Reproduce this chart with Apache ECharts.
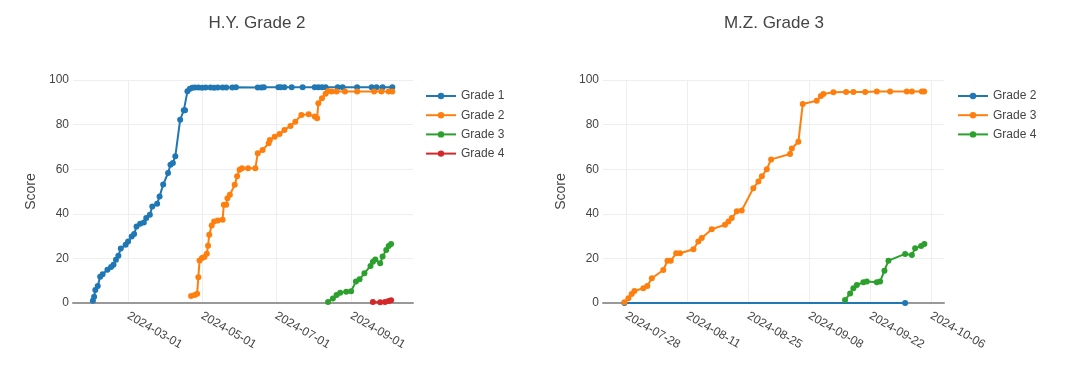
<!DOCTYPE html>
<html>
<head>
<meta charset="utf-8">
<script src="https://cdn.jsdelivr.net/npm/echarts@6/dist/echarts.min.js"></script>
<style>
  html, body { margin: 0; padding: 0; background: #fff; }
  .row { display: flex; width: 1080px; height: 377px; }
  .chart { width: 540px; height: 377px; }
</style>
</head>
<body>
<div class="row">
  <div id="left" class="chart"></div>
  <div id="right" class="chart"></div>
</div>
<script>
// ---- H.Y. Grade 2 ----
const HY_TICKS = ['2024-03-01', '2024-05-01', '2024-07-01', '2024-09-01']

const HY_G1_DATES = ['2024-02-01', '2024-02-02', '2024-02-03', '2024-02-05', '2024-02-07', '2024-02-09', '2024-02-13',
  '2024-02-16', '2024-02-18', '2024-02-20', '2024-02-22', '2024-02-24', '2024-02-28', '2024-03-01', '2024-03-04',
  '2024-03-06', '2024-03-08', '2024-03-11', '2024-03-14', '2024-03-16', '2024-03-19', '2024-03-21', '2024-03-25',
  '2024-03-27', '2024-03-30', '2024-04-03', '2024-04-05', '2024-04-07', '2024-04-09', '2024-04-13', '2024-04-16',
  '2024-04-17', '2024-04-19', '2024-04-21', '2024-04-23', '2024-04-25', '2024-04-28', '2024-05-01', '2024-05-04',
  '2024-05-08', '2024-05-11', '2024-05-14', '2024-05-18', '2024-05-21', '2024-05-26', '2024-05-29', '2024-06-16',
  '2024-06-19', '2024-06-21', '2024-07-03', '2024-07-05', '2024-07-08', '2024-07-14', '2024-07-23', '2024-08-02',
  '2024-08-05', '2024-08-08', '2024-08-11', '2024-08-21', '2024-08-25', '2024-09-06', '2024-09-18', '2024-09-22',
  '2024-09-27', '2024-10-05']
const HY_G1_SCORES = [1.0, 2.8, 5.8, 7.6, 11.8, 12.9, 14.9,
  16.1, 17.1, 19.4, 21.2, 24.4, 26.1, 27.6, 29.8,
  30.9, 34.3, 35.5, 36.1, 38.1, 39.6, 43.3, 44.5,
  47.8, 53.1, 58.3, 62.0, 62.8, 65.8, 82.2, 86.4,
  86.4, 94.9, 96.1, 96.5, 96.6, 96.6, 96.5, 96.6,
  96.6, 96.5, 96.6, 96.6, 96.6, 96.6, 96.7, 96.6,
  96.6, 96.7, 96.7, 96.7, 96.7, 96.7, 96.7, 96.8,
  96.8, 96.8, 96.8, 96.7, 96.7, 96.7, 96.7, 96.7,
  96.7, 96.7]

const HY_G2_DATES = ['2024-04-22', '2024-04-25', '2024-04-27', '2024-04-28', '2024-04-29', '2024-05-01', '2024-05-03',
  '2024-05-05', '2024-05-06', '2024-05-07', '2024-05-09', '2024-05-11', '2024-05-14', '2024-05-18', '2024-05-19',
  '2024-05-21', '2024-05-22', '2024-05-24', '2024-05-28', '2024-05-30', '2024-06-01', '2024-06-03', '2024-06-08',
  '2024-06-14', '2024-06-16', '2024-06-20', '2024-06-25', '2024-06-26', '2024-06-30', '2024-07-04', '2024-07-08',
  '2024-07-13', '2024-07-17', '2024-07-22', '2024-07-28', '2024-08-02', '2024-08-04', '2024-08-05', '2024-08-08',
  '2024-08-11', '2024-08-13', '2024-08-16', '2024-08-20', '2024-08-27', '2024-09-06', '2024-09-20', '2024-09-26',
  '2024-10-02', '2024-10-05']
const HY_G2_SCORES = [3.1, 3.6, 4.2, 11.6, 19.1, 20.2, 20.6,
  22.1, 25.7, 30.6, 34.7, 36.6, 37.0, 37.3, 44.1,
  44.1, 47.0, 48.5, 53.0, 56.8, 59.8, 60.4, 60.4,
  60.4, 67.1, 68.6, 71.6, 73.1, 74.6, 75.8, 77.6,
  79.4, 81.3, 84.3, 84.6, 83.6, 82.8, 89.6, 91.8,
  93.8, 95.1, 94.8, 94.8, 94.8, 94.8, 94.8, 94.8,
  94.8, 94.8]

const HY_G3_DATES = ['2024-08-13', '2024-08-17', '2024-08-20', '2024-08-23', '2024-08-28', '2024-09-01', '2024-09-05',
  '2024-09-08', '2024-09-12', '2024-09-17', '2024-09-19', '2024-09-21', '2024-09-25', '2024-09-27', '2024-09-30',
  '2024-10-02', '2024-10-04']
const HY_G3_SCORES = [0.5, 2.0, 3.6, 4.6, 5.1, 5.3, 9.6,
  10.6, 13.3, 16.6, 18.5, 19.5, 17.8, 20.8, 23.8,
  25.6, 26.5]

const HY_G4_DATES = ['2024-09-19', '2024-09-25', '2024-09-29', '2024-10-02', '2024-10-04']
const HY_G4_SCORES = [0.4, 0.3, 0.5, 0.9, 1.2]

// ---- M.Z. Grade 3 ----
const MZ_TICKS = ['2024-07-28', '2024-08-11', '2024-08-25', '2024-09-08', '2024-09-22', '2024-10-06']

const MZ_G2_DATES = ['2024-07-27 15:00', '2024-09-30 01:00']
const MZ_G2_SCORES = [0, 0]

const MZ_G3_DATES = ['2024-07-27 15:00', '2024-07-28 13:00', '2024-07-29 07:00', '2024-07-29 22:00', '2024-07-31 23:00',
  '2024-08-01 21:00', '2024-08-02 22:00', '2024-08-05 13:00', '2024-08-06 12:00', '2024-08-07 06:00',
  '2024-08-08 12:00', '2024-08-09 09:00', '2024-08-12 11:00', '2024-08-13 14:00', '2024-08-14 09:00',
  '2024-08-16 16:00', '2024-08-19 17:00', '2024-08-20 12:00', '2024-08-21 06:00', '2024-08-22 10:00',
  '2024-08-23 13:00', '2024-08-26 05:00', '2024-08-27 09:00', '2024-08-28 04:00', '2024-08-29 07:00',
  '2024-08-30 07:00', '2024-09-03 15:00', '2024-09-04 01:00', '2024-09-05 13:00', '2024-09-06 13:00',
  '2024-09-09 18:00', '2024-09-10 17:00', '2024-09-11 07:00', '2024-09-13 14:00', '2024-09-16 12:00',
  '2024-09-18 04:00', '2024-09-20 21:00', '2024-09-23 13:00', '2024-09-26 14:00', '2024-09-30 10:00',
  '2024-10-01 14:00', '2024-10-03 21:00', '2024-10-04 10:00']
const MZ_G3_SCORES = [0.3, 2.1, 4.0, 5.4, 6.6,
  7.6, 11.1, 14.8, 18.9, 18.9,
  22.3, 22.3, 24.1, 27.6, 29.1,
  33.1, 35.1, 36.6, 38.1, 41.1,
  41.5, 51.5, 54.5, 56.8, 60.0,
  64.4, 66.8, 69.3, 72.3, 89.2,
  90.7, 92.8, 93.7, 94.5, 94.6,
  94.6, 94.6, 94.8, 94.8, 94.8,
  94.8, 94.8, 94.8]

const MZ_G4_DATES = ['2024-09-16 06:00', '2024-09-17 10:00', '2024-09-18 04:00', '2024-09-18 23:00', '2024-09-20 11:00',
  '2024-09-21 06:00', '2024-09-23 13:00', '2024-09-24 07:00', '2024-09-25 07:00', '2024-09-26 05:00',
  '2024-09-30 01:00', '2024-10-01 14:00', '2024-10-02 08:00', '2024-10-03 17:00', '2024-10-04 11:00']
const MZ_G4_SCORES = [1.3, 4.3, 6.6, 8.1, 9.3,
  9.6, 9.3, 9.6, 14.5, 19.0,
  22.0, 21.5, 24.5, 25.6, 26.5]

const BLUE = '#1f77b4', ORANGE = '#ff7f0e', GREEN = '#2ca02c', RED = '#d62728'
const FONT = 'Liberation Sans, Arial, sans-serif'
const TXT = '#444'

const pairs = (dates, scores) => dates.map((d, i) => [d, scores[i]])

const lineSeries = (name, color, dates, scores) => ({
  name,
  type: 'line',
  data: pairs(dates, scores),
  symbol: 'circle',
  symbolSize: 6,
  showSymbol: true,
  color,
  lineStyle: { width: 2, color },
  itemStyle: { color },
  animation: false
})

const buildOption = (cfg) => ({
  animation: false,
  textStyle: { fontFamily: FONT },
  title: {
    text: cfg.title,
    left: cfg.titleX,
    top: 10,
    textAlign: 'center',
    textStyle: { fontSize: 17, fontWeight: 'normal', color: TXT, fontFamily: FONT }
  },
  legend: {
    orient: 'vertical',
    left: cfg.legendX,
    top: 84,
    itemWidth: 30,
    itemHeight: 8,
    itemGap: 5.2,
    textStyle: { fontSize: 12, color: TXT, fontFamily: FONT, lineHeight: 14 }
  },
  grid: { left: cfg.gridLeft, width: cfg.gridWidth, top: 80, height: 223 },
  xAxis: {
    type: 'time',
    min: cfg.xMin,
    max: cfg.xMax,
    axisLine: { show: true, lineStyle: { color: '#999', width: 2 } },
    axisTick: { show: false, customValues: cfg.ticks },
    axisLabel: {
      customValues: cfg.ticks,
      formatter: '{yyyy}-{MM}-{dd}',
      rotate: -30,
      margin: 12,
      fontSize: 12,
      color: TXT,
      fontFamily: FONT
    },
    splitLine: { show: true, lineStyle: { color: '#eee', width: 1 } }
  },
  yAxis: {
    type: 'value',
    min: 0,
    max: 100,
    interval: 20,
    name: 'Score',
    nameLocation: 'middle',
    nameGap: cfg.nameGap,
    nameTextStyle: { fontSize: 14, color: TXT, fontFamily: FONT },
    axisLine: { show: false },
    axisTick: { show: false },
    axisLabel: { fontSize: 12, color: TXT, margin: 4, fontFamily: FONT },
    splitLine: { lineStyle: { color: '#eee', width: 1 } }
  },
  series: cfg.series
})

const leftChart = echarts.init(document.getElementById('left'))
leftChart.setOption(buildOption({
  title: 'H.Y. Grade 2',
  titleX: 252,
  legendX: 420,
  gridLeft: 73,
  gridWidth: 340,
  nameGap: 32,
  xMin: '2024-01-15 14:00',
  xMax: '2024-10-22 02:00',
  ticks: HY_TICKS,
  series: [
    lineSeries('Grade 1', BLUE, HY_G1_DATES, HY_G1_SCORES),
    lineSeries('Grade 2', ORANGE, HY_G2_DATES, HY_G2_SCORES),
    lineSeries('Grade 3', GREEN, HY_G3_DATES, HY_G3_SCORES),
    lineSeries('Grade 4', RED, HY_G4_DATES, HY_G4_SCORES)
  ]
}))

const rightChart = echarts.init(document.getElementById('right'))
rightChart.setOption(buildOption({
  title: 'M.Z. Grade 3',
  titleX: 229,
  legendX: 412,
  gridLeft: 63,
  gridWidth: 341,
  nameGap: 32,
  xMin: '2024-07-22 17:00',
  xMax: '2024-10-08 23:00',
  ticks: MZ_TICKS,
  series: [
    lineSeries('Grade 2', BLUE, MZ_G2_DATES, MZ_G2_SCORES),
    lineSeries('Grade 3', ORANGE, MZ_G3_DATES, MZ_G3_SCORES),
    lineSeries('Grade 4', GREEN, MZ_G4_DATES, MZ_G4_SCORES)
  ]
}))

window.addEventListener('resize', () => {
  leftChart.resize()
  rightChart.resize()
})
</script>
</body>
</html>
